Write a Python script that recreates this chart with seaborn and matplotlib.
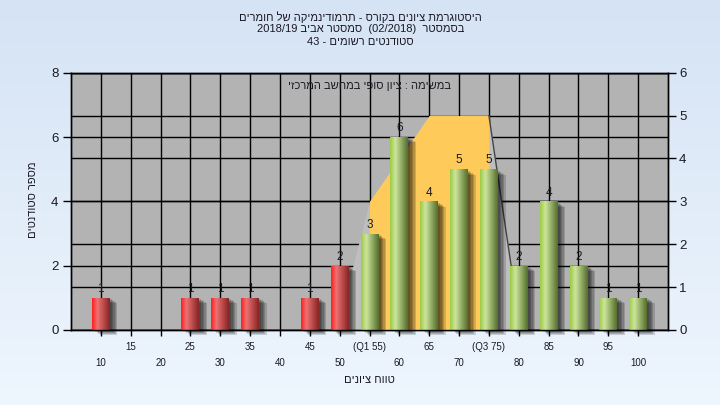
import re
import matplotlib
matplotlib.use('Agg')
import matplotlib.pyplot as plt
import matplotlib.patheffects as pe
from matplotlib.colors import LinearSegmentedColormap
import seaborn as sns
import numpy as np
import pandas as pd

# --- data ---
grades = [10, 15, 20, 25, 30, 35, 40, 45, 50, 55, 60, 65, 70, 75, 80, 85, 90, 95, 100]
tick_labels = ['10', '15', '20', '25', '30', '35', '40', '45', '50', '(Q1 55)',
               '60', '65', '70', '(Q3 75)', '80', '85', '90', '95', '100']
counts = [1, 0, 0, 1, 1, 1, 0, 1, 2, 3, 6, 4, 5, 5, 2, 4, 2, 1, 1]
pass_grade = 55
q1, q3 = 55, 75

# band on the right axis
band_grades = [50, 55, 60, 65, 70, 75, 80]
band_values = [0.3, 3, 4, 5, 5, 5, 0.3]

left_ticks = [0, 2, 4, 6, 8]
right_ticks = [0, 1, 2, 3, 4, 5, 6]

title_lines = ['היסטוגרמת ציונים בקורס - תרמודינמיקה של חומרים',
               'בסמסטר  (02/2018)  סמסטר אביב 2018/19',
               'סטודנטים רשומים - 43']
note_text = 'במשימה : ציון סופי במחשב המרכזי'
x_title = 'טווח ציונים'
y_title = 'מספר סטודנטים'


def rtl(s):
    # matplotlib has no bidi: put the hebrew in visual order, keep numbers LTR
    s = s[::-1]
    s = re.sub(r'[0-9A-Za-z/]+', lambda m: m.group(0)[::-1], s)
    return s.translate(str.maketrans('()', ')('))


sns.set_style('white')
plt.rcParams['font.family'] = ['Liberation Sans', 'DejaVu Sans']
text_col = '#1a1a24'

fig = plt.figure(figsize=(7.2, 4.05), dpi=100)

# figure background gradient
bg = fig.add_axes([0, 0, 1, 1], zorder=-10)
bg_cmap = LinearSegmentedColormap.from_list('bg', ['#eef6fe', '#d5e3f4'])
bg.imshow(np.linspace(0, 1, 256).reshape(-1, 1), cmap=bg_cmap, aspect='auto',
          extent=[0, 1, 0, 1], origin='lower')
bg.axis('off')

ax = fig.add_axes([0.0986, 0.1852, 0.8292, 0.6353])
ax2 = ax.twinx()
ax.set_zorder(ax2.get_zorder() + 1)
ax.patch.set_visible(False)
ax2.patch.set_visible(True)
ax2.patch.set_facecolor('#b3b3b3')

# bars
df = pd.DataFrame({'grade': [str(g) for g in grades],
                   'count': counts,
                   'status': ['fail' if g < pass_grade else 'pass' for g in grades]})
sns.barplot(data=df, x='grade', y='count', hue='status', order=df['grade'],
            palette={'fail': '#e02a2a', 'pass': '#98c050'}, dodge=False,
            width=0.6, saturation=1, legend=False, linewidth=0, edgecolor='none', ax=ax)

red_cmap = LinearSegmentedColormap.from_list(
    'red', [(0, '#ff2020'), (0.3, '#ec7272'), (1, '#882424')])
green_cmap = LinearSegmentedColormap.from_list(
    'green', [(0, '#9ccb45'), (0.3, '#cde59c'), (1, '#55702d')])
shade = np.linspace(0, 1, 64).reshape(1, -1)

# soft shadow: a few offset layers
shadow = [pe.SimplePatchShadow(offset=(o, -o * 0.7), shadow_rgbFace='k', alpha=0.16)
          for o in (1.5, 2.5, 3.5, 4.5, 5.5)]

for bar in ax.patches:
    h = bar.get_height()
    if h <= 0:
        continue
    x0, w = bar.get_x(), bar.get_width()
    idx = int(round(x0 + w / 2))
    cmap = red_cmap if grades[idx] < pass_grade else green_cmap
    bar.set_clip_on(False)
    bar.set_path_effects(shadow + [pe.Normal()])
    im = ax.imshow(shade, cmap=cmap, extent=[x0, x0 + w, 0, h], aspect='auto',
                   zorder=bar.get_zorder() + 0.5)
    im.set_clip_path(bar)

for c in ax.containers:
    labels = [str(int(v)) if v > 0 else '' for v in c.datavalues]
    ax.bar_label(c, labels=labels, padding=2, fontsize=8.5, color=text_col)

# left axis
ax.set_xlim(-1, len(grades))
ax.set_ylim(left_ticks[0], left_ticks[-1])
ax.set_yticks(left_ticks)
ax.set_xticks(range(0, len(grades), 2))
ax.set_xticklabels(tick_labels[::2])
ax.set_xticks(range(1, len(grades), 2), minor=True)
ax.set_xticklabels(tick_labels[1::2], minor=True)
ax.tick_params(axis='y', left=True, direction='out', length=6, width=1,
               color='k', labelsize=9.5, labelcolor=text_col, pad=3)
ax.tick_params(axis='x', which='both', bottom=True, direction='out', length=4,
               width=1, color='k', labelsize=7, labelcolor=text_col)
ax.tick_params(axis='x', which='major', pad=16)
ax.tick_params(axis='x', which='minor', pad=5)
ax.set_xlabel(rtl(x_title), fontsize=8, color=text_col)
ax.xaxis.set_label_coords(0.5, -0.175)
ax.set_ylabel(rtl(y_title), fontsize=8, color=text_col)
ax.yaxis.set_label_coords(-0.055, 0.505)

# right axis: grid + band
ax2.set_ylim(right_ticks[0], right_ticks[-1])
ax2.set_yticks(right_ticks)
ax2.tick_params(axis='y', right=True, direction='out', length=6, width=1,
                color='k', labelsize=9.5, labelcolor=text_col, pad=2)
ax2.set_axisbelow(True)
ax2.grid(axis='y', color='k', lw=1)
for v in left_ticks:
    ax2.plot([0, 1], [v, v], transform=ax.get_yaxis_transform(), color='k', lw=1, zorder=1)
ax2.vlines(range(len(grades)), 0, 1, transform=ax2.get_xaxis_transform(),
           colors='k', lw=1, zorder=1)

band_pos = [grades.index(g) for g in band_grades]
ax2.fill_between(band_pos, band_values, color='#bebebe', lw=0, zorder=2)
inner = [(p, v) for g, p, v in zip(band_grades, band_pos, band_values) if q1 <= g <= q3]
ax2.fill_between([p for p, _ in inner], [v for _, v in inner], color='#fecb5a', lw=0, zorder=3)
ax2.plot(band_pos[-2:], band_values[-2:], color='#444444', lw=1, zorder=4)

for a in (ax, ax2):
    for s in a.spines.values():
        s.set_color('k')
        s.set_linewidth(1)

ax.text(0.5, 0.948, rtl(note_text), transform=ax.transAxes, ha='center', va='center',
        fontsize=8, color=text_col, zorder=10)

for i, line in enumerate(title_lines):
    fig.text(0.501, 1 - (17 + 12.5 * i) / 405, rtl(line), ha='center', va='center',
             fontsize=8, color=text_col)

fig.savefig('out.png', dpi=100)
